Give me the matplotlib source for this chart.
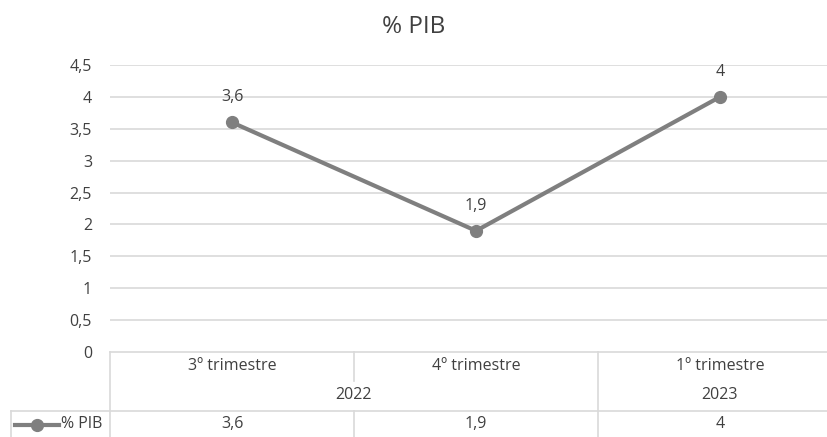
import matplotlib
matplotlib.use("Agg")
import matplotlib.pyplot as plt
from matplotlib.lines import Line2D

quarters = ["3º trimestre", "4º trimestre", "1º trimestre"]
years = ["2022", "2023"]
year_spans = [(0, 1), (2, 2)]
values = [3.6, 1.9, 4.0]
series_name = "% PIB"
yticks = [0, 0.5, 1, 1.5, 2, 2.5, 3, 3.5, 4, 4.5]

def fmt(v):
    s = ("%g" % v).replace(".", ",")
    return s

W, H = 828, 437
FS = 11.5
plt.rcParams['font.family'] = ['Open Sans', 'DejaVu Sans']
fig = plt.figure(figsize=(W / 100, H / 100), dpi=100)
left_px, right_px = 110, 842
top_px, bot_px = 65, 352
ax = fig.add_axes([left_px / W, 1 - bot_px / H, (right_px - left_px) / W, (bot_px - top_px) / H])

GRAY = "#7f7f7f"
GRID = "#d9d9d9"
TXT = "#404040"

x = list(range(len(values)))
ax.plot(x, values, color=GRAY, lw=3.0, marker="o", ms=8.5, solid_capstyle="round", zorder=3, clip_on=False)
for xi, v in zip(x, values):
    ax.annotate(fmt(v), (xi, v), xytext=(0, 18), textcoords="offset points",
                ha="center", va="center", fontsize=FS, color=TXT)

ax.set_xlim(-0.5, len(values) - 0.5)
ax.set_ylim(0, 4.5)
ax.set_yticks(yticks)
ax.set_yticklabels([fmt(t) for t in yticks], fontsize=FS, color=TXT)
ax.tick_params(axis="y", length=0, pad=13)
ax.set_xticks([])
for y in yticks[1:]:
    ax.axhline(y, color=GRID, lw=1.2, zorder=1)
for s in ax.spines.values():
    s.set_visible(False)

fig.text(0.5, 1 - 27 / H, "% PIB", ha="center", va="center", fontsize=17.5, color=TXT)

def fx(px):
    return px / W
def fy(py):
    return 1 - py / H
def data_px(xd):
    return left_px + (xd + 0.5) * (right_px - left_px) / len(values)

lc = GRID
def hline(x0, x1, y):
    fig.add_artist(Line2D([fx(x0), fx(x1)], [fy(y), fy(y)], color=lc, lw=1.2))
def vline(xp, y0, y1):
    fig.add_artist(Line2D([fx(xp), fx(xp)], [fy(y0), fy(y1)], color=lc, lw=1.2))

hline(left_px, W + 20, bot_px)
hline(11, W + 20, 411)
vline(left_px, bot_px, H + 5)
vline(11, 411, H + 5)
for i in range(1, len(values)):
    xp = data_px(i - 0.5)
    boundary = any(i == s for s, e in year_spans)
    if boundary:
        vline(xp, bot_px, H + 5)
    else:
        vline(xp, bot_px, 381)
        vline(xp, 411, H + 5)

for i, q in enumerate(quarters):
    fig.text(fx(data_px(i)), fy(366), q, ha="center", va="center", fontsize=FS, color=TXT)
for yr, (s, e) in zip(years, year_spans):
    fig.text(fx(data_px((s + e) / 2)), fy(395), yr, ha="center", va="center", fontsize=FS, color=TXT)
for i, v in enumerate(values):
    fig.text(fx(data_px(i)), fy(424), fmt(v), ha="center", va="center", fontsize=FS, color=TXT)

fig.add_artist(Line2D([fx(15), fx(59)], [fy(425), fy(425)], color=GRAY, lw=3.0))
fig.add_artist(Line2D([fx(37)], [fy(425)], color=GRAY, marker="o", ms=8.5))
fig.text(fx(61), fy(424), series_name, ha="left", va="center", fontsize=FS, color=TXT)

fig.savefig("out.png", dpi=100, facecolor="white")
